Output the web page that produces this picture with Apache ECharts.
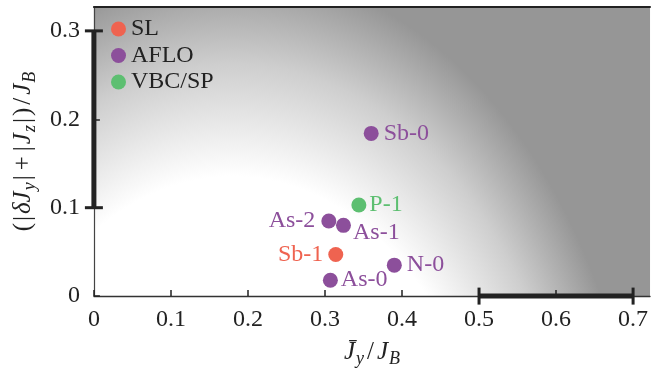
<!DOCTYPE html>
<html><head><meta charset="utf-8">
<script src="https://cdn.jsdelivr.net/npm/echarts@6/dist/echarts.min.js"></script>
<style>html,body{margin:0;padding:0;background:#fff}#c{width:651px;height:373px}</style>
</head><body><div id="c"></div>
<script>
// ---- data ----
const seriesNames = ['SL', 'AFLO', 'VBC/SP'];
const slNames = ['Sb-1'];
const slX = [0.314];
const slY = [0.047];
const afloNames = ['Sb-0', 'As-2', 'As-1', 'N-0', 'As-0'];
const afloX = [0.360, 0.305, 0.324, 0.390, 0.307];
const afloY = [0.184, 0.085, 0.080, 0.035, 0.018];
const vbcNames = ['P-1'];
const vbcX = [0.344];
const vbcY = [0.103];
const xTickLabels = [0, 0.1, 0.2, 0.3, 0.4, 0.5, 0.6, 0.7];
const yTickLabels = [0, 0.1, 0.2, 0.3];
const xRange = [0.5, 0.7];
const yRange = [0.1, 0.3];
const regionNames = ['1D', '3D'];
const regionX = [0.052, 0.671];
const regionY = [0.034, 0.292];

// ---- styling ----
const FONT = '"Liberation Serif", "Times New Roman", serif';
const COLORS = { 'SL': '#ef6350', 'AFLO': '#8c4f9b', 'VBC/SP': '#5dbf71' };
const AX = '#222';
const labelPlacement = { 'As-2': { position: 'left', distance: 6 }, 'Sb-1': { position: 'left', distance: 5 },
  'As-1': { position: 'right', distance: 2, offset: [0, 7] }, 'P-1': { position: 'right', distance: 3 },
  'As-0': { position: 'right', distance: 3 } };

function points(names, xs, ys) {
  return names.map((n, i) => {
    const p = labelPlacement[n] || { position: 'right', distance: 5 };
    return { name: n, value: [xs[i], ys[i]], label: Object.assign({}, p) };
  });
}
function scatter(name, data) {
  return {
    type: 'scatter', name: name, data: data, symbolSize: 15, z: 5,
    itemStyle: { color: COLORS[name], opacity: 1 },
    label: { show: true, formatter: '{b}', color: COLORS[name], fontFamily: FONT, fontSize: 24 },
    emphasis: { disabled: true }
  };
}

const NS = 25, SS = 18;
const richBase = {
  i: { fontFamily: FONT, fontSize: NS, fontStyle: 'italic', color: AX, lineHeight: 30, padding: [0, 1, 0, 1] },
  n: { fontFamily: FONT, fontSize: NS, color: AX, lineHeight: 30, padding: [0, 1, 0, 1] },
  b: { fontFamily: FONT, fontSize: NS, color: AX, lineHeight: 30, padding: [0, 1, 0, 1] },
  o: { fontFamily: FONT, fontSize: NS, color: AX, lineHeight: 30, padding: [0, 4, 0, 4] },
  sl: { fontFamily: FONT, fontSize: NS, color: AX, lineHeight: 30, padding: [0, 2, 0, 2] },
  s: { fontFamily: FONT, fontSize: SS, fontStyle: 'italic', color: AX, lineHeight: 17, padding: [13, 1, 0, 0] }
};

const chart = echarts.init(document.getElementById('c'), null, { renderer: 'canvas' });
const option = {
  animation: false,
  grid: { left: 91, right: 0, top: 7, bottom: 75, containLabel: false },
  legend: {
    data: seriesNames, orient: 'vertical', left: 106, top: 12, itemWidth: 15, itemHeight: 15, itemGap: 2.5,
    icon: 'circle', textStyle: { fontFamily: FONT, fontSize: 24, color: AX }, selectedMode: false
  },
  xAxis: [{
    type: 'value', min: 0, max: 0.722, position: 'bottom',
    splitLine: { show: false },
    axisLine: { show: true, onZero: false, lineStyle: { color: '#333', width: 1.3 } },
    axisTick: { show: true, inside: true, length: 6, customValues: xTickLabels, lineStyle: { color: AX, width: 1.5 } },
    axisLabel: { customValues: xTickLabels, margin: 12, fontFamily: FONT, fontSize: 24, color: AX },
    name: '{i|J\u0304}{s|y}{sl|/}{i|J}{s|B}', nameLocation: 'middle', nameGap: 36,
    nameTextStyle: { rich: richBase }
  }, {
    type: 'value', min: 0, max: 0.722, position: 'top',
    splitLine: { show: false }, axisTick: { show: false }, axisLabel: { show: false },
    axisLine: { show: true, onZero: false, lineStyle: { color: AX, width: 2 } }
  }],
  yAxis: {
    type: 'value', min: 0, max: 0.327,
    splitLine: { show: false },
    axisLine: { show: true, onZero: false, lineStyle: { color: '#444', width: 1.2 } },
    axisTick: { show: true, inside: true, length: 6, customValues: yTickLabels, lineStyle: { color: AX, width: 1.5 } },
    axisLabel: { customValues: yTickLabels, margin: 14, fontFamily: FONT, fontSize: 24, color: AX },
    name: '{n|(}{b||}{i|\u03b4J}{s|y}{b||}{o|+}{b||}{i|J}{s|z}{b||}{n|)}{sl|/}{i|J}{s|B}',
    nameLocation: 'middle', nameRotate: 90, nameGap: 53,
    nameTextStyle: { rich: richBase }
  },
  series: [
    {
      type: 'custom', name: 'bg', z: -1, silent: true, data: [[0, 0]],
      renderItem: function (params, api) {
        const cs = params.coordSys;
        const c = api.coord([0.18, -0.30]);
        const rx = api.coord([0.18 + 0.535, -0.30])[0] - c[0];
        const ry = c[1] - api.coord([0.18, -0.30 + 0.67])[1];
        const k = ry / rx;
        const top = (cs.y - c[1]) / k + c[1];
        return {
          type: 'rect', originX: c[0], originY: c[1], scaleX: 1, scaleY: k,
          shape: { x: cs.x, y: top, width: cs.width, height: cs.height / k },
          style: {
            fill: { type: 'radial', x: c[0], y: c[1], r: rx, global: true,
              colorStops: [{ offset: 0, color: '#ffffff' }, { offset: 0.65, color: '#ffffff' },
                { offset: 0.84, color: '#cecece' }, { offset: 1, color: '#969696' }] }
          }
        };
      }
    },
    {
      type: 'custom', name: 'frame', z: 3, silent: true, clip: false,
      data: [[xRange[0], xRange[1], yRange[0], yRange[1]]],
      renderItem: function (params, api) {
        const a = api.coord([api.value(0), 0]), b = api.coord([api.value(1), 0]);
        const c = api.coord([0, api.value(2)]), d = api.coord([0, api.value(3)]);
        const st = { stroke: AX, lineWidth: 5 };
        const cap = { stroke: AX, lineWidth: 3 };
        return { type: 'group', children: [
          { type: 'line', shape: { x1: a[0], y1: a[1], x2: b[0], y2: b[1] }, style: st },
          { type: 'line', shape: { x1: a[0], y1: a[1] - 8.5, x2: a[0], y2: a[1] + 8.5 }, style: cap },
          { type: 'line', shape: { x1: b[0], y1: b[1] - 8.5, x2: b[0], y2: b[1] + 8.5 }, style: cap },
          { type: 'line', shape: { x1: c[0], y1: c[1], x2: d[0], y2: d[1] }, style: st },
          { type: 'line', shape: { x1: c[0] - 9, y1: c[1], x2: c[0] + 9, y2: c[1] }, style: cap },
          { type: 'line', shape: { x1: d[0] - 9, y1: d[1], x2: d[0] + 9, y2: d[1] }, style: cap }
        ] };
      }
    },
    {
      type: 'scatter', name: 'regions', symbolSize: 1, z: 4, silent: true,
      itemStyle: { opacity: 0 },
      data: regionNames.map((n, i) => ({ name: n, value: [regionX[i], regionY[i]],
        label: { color: n === '1D' ? '#888888' : '#f4f4f4' } })),
      label: { show: true, position: 'inside', formatter: '{b}', fontFamily: FONT, fontSize: 29 }
    },
    scatter('SL', points(slNames, slX, slY)),
    scatter('AFLO', points(afloNames, afloX, afloY)),
    scatter('VBC/SP', points(vbcNames, vbcX, vbcY))
  ]
};
chart.setOption(option);
</script>
</body></html>
